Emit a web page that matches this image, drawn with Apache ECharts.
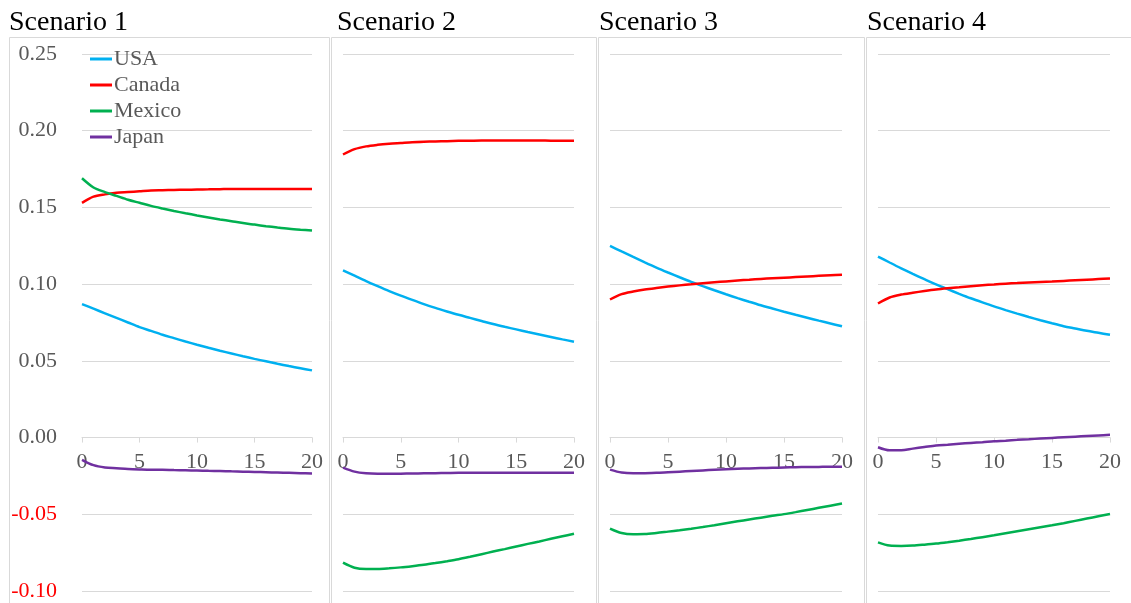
<!DOCTYPE html>
<html><head><meta charset="utf-8">
<script src="https://cdn.jsdelivr.net/npm/echarts@6/dist/echarts.min.js"></script>
<style>html,body{margin:0;padding:0;background:#fff}#c{width:1131px;height:603px}</style>
</head><body><div id="c"></div>
<script>
const scenarios = ['Scenario 1', 'Scenario 2', 'Scenario 3', 'Scenario 4'];
const countries = ['USA', 'Canada', 'Mexico', 'Japan'];
const colors = ['#00B0F0', '#FF0000', '#00B050', '#7030A0'];
const years = [0,1,2,3,4,5,6,7,8,9,10,11,12,13,14,15,16,17,18,19,20];
const xTicks = [0, 5, 10, 15, 20];
const yTicks = [-0.10, -0.05, 0.00, 0.05, 0.10, 0.15, 0.20, 0.25];

// Scenario 1
const s1USA = [0.087,0.084,0.081,0.078,0.075,0.072,0.0695,0.067,0.0648,0.0626,0.0605,0.0585,0.0566,0.0548,0.053,0.0513,0.0497,0.0481,0.0466,0.0452,0.0438];
const s1Canada = [0.153,0.157,0.1585,0.1595,0.160,0.1605,0.161,0.1612,0.1614,0.1615,0.1617,0.1618,0.1619,0.162,0.162,0.162,0.162,0.162,0.162,0.162,0.162];
const s1Mexico = [0.169,0.163,0.160,0.1575,0.155,0.153,0.151,0.1493,0.1477,0.1462,0.1448,0.1435,0.1422,0.141,0.1398,0.1388,0.1378,0.1369,0.1361,0.1355,0.1350];
const s1Japan = [-0.0145,-0.018,-0.0195,-0.020,-0.0205,-0.0208,-0.021,-0.021,-0.0212,-0.0213,-0.0215,-0.0217,-0.0218,-0.022,-0.0222,-0.0224,-0.0226,-0.0228,-0.023,-0.0232,-0.0234];
// Scenario 2
const s2USA = [0.109,0.1055,0.102,0.0987,0.0955,0.0925,0.0897,0.087,0.0845,0.0822,0.080,0.078,0.076,0.074,0.0722,0.0705,0.0688,0.0672,0.0656,0.064,0.0625];
const s2Canada = [0.1845,0.188,0.1898,0.1908,0.1915,0.192,0.1925,0.1928,0.193,0.1932,0.1934,0.1935,0.1936,0.1936,0.1936,0.1936,0.1936,0.1936,0.1935,0.1935,0.1935];
const s2Mexico = [-0.0815,-0.0848,-0.0856,-0.0856,-0.0852,-0.0846,-0.0838,-0.0829,-0.0818,-0.0806,-0.0793,-0.0777,-0.076,-0.0743,-0.0727,-0.071,-0.0693,-0.0677,-0.066,-0.0643,-0.0627];
const s2Japan = [-0.0196,-0.0222,-0.0233,-0.0236,-0.0236,-0.0235,-0.0234,-0.0233,-0.0232,-0.0231,-0.023,-0.023,-0.0229,-0.0229,-0.0229,-0.0229,-0.0229,-0.0229,-0.0229,-0.0229,-0.0229];
// Scenario 3
const s3USA = [0.125,0.1213,0.1177,0.1142,0.1108,0.1076,0.1045,0.1015,0.0987,0.096,0.0934,0.0909,0.0885,0.0862,0.0841,0.082,0.08,0.0781,0.0762,0.0744,0.0725];
const s3Canada = [0.090,0.0935,0.0952,0.0965,0.0975,0.0984,0.0992,0.0999,0.1006,0.1012,0.1018,0.1024,0.1029,0.1034,0.1038,0.1042,0.1046,0.105,0.1054,0.1058,0.1062];
const s3Mexico = [-0.0593,-0.0622,-0.063,-0.0629,-0.0622,-0.0613,-0.0604,-0.0594,-0.0583,-0.0571,-0.0558,-0.0546,-0.0534,-0.0522,-0.051,-0.0499,-0.0486,-0.0472,-0.0458,-0.0444,-0.043];
const s3Japan = [-0.0209,-0.0228,-0.0233,-0.0232,-0.023,-0.0226,-0.0222,-0.0218,-0.0214,-0.021,-0.0206,-0.0203,-0.0201,-0.0199,-0.0197,-0.0195,-0.0193,-0.0192,-0.0191,-0.019,-0.019];
// Scenario 4
const s4USA = [0.118,0.1141,0.1103,0.1067,0.1032,0.0998,0.0967,0.0937,0.0908,0.0881,0.0855,0.0831,0.0808,0.0786,0.0765,0.0745,0.0726,0.0711,0.0696,0.0683,0.067];
const s4Canada = [0.0874,0.0913,0.0932,0.0944,0.0955,0.0965,0.0973,0.098,0.0987,0.0993,0.0998,0.1003,0.1007,0.1011,0.1014,0.1017,0.1021,0.1025,0.1029,0.1033,0.1037];
const s4Mexico = [-0.0683,-0.0704,-0.0706,-0.0704,-0.0698,-0.0691,-0.0682,-0.0672,-0.0661,-0.0649,-0.0637,-0.0624,-0.0611,-0.0598,-0.0585,-0.0572,-0.0558,-0.0543,-0.0528,-0.0513,-0.0498];
const s4Japan = [-0.0063,-0.0083,-0.0082,-0.0072,-0.0062,-0.0052,-0.0046,-0.004,-0.0035,-0.003,-0.0024,-0.002,-0.0015,-0.0011,-0.0006,-0.0002,0.0002,0.0006,0.001,0.0014,0.0018];

const panelData = [
  [s1USA, s1Canada, s1Mexico, s1Japan],
  [s2USA, s2Canada, s2Mexico, s2Japan],
  [s3USA, s3Canada, s3Mexico, s3Japan],
  [s4USA, s4Canada, s4Mexico, s4Japan]
];

const FONT = '"Liberation Serif", "Times New Roman", serif';
const GRID_CLR = '#d9d9d9';
const CHART_H = 603, GRID_TOP = 54, GRID_BOTTOM = 12;
const GRID_H = CHART_H - GRID_TOP - GRID_BOTTOM;
const yMin = yTicks[0], yMax = yTicks[yTicks.length - 1];
// move the horizontal axis from the grid bottom up to the y = 0 line
const zeroOffset = -GRID_H * (0 - yMin) / (yMax - yMin);
const gridLefts = [82, 343, 610, 878];
const gridWidths = [230, 231, 232, 232];
const panelBoxes = [[9, 329], [331, 596], [598, 864], [866, 1140]];
const titleLefts = [9, 337, 599, 867];

const grids = [], xAxes = [], yAxes = [], series = [], titles = [], graphics = [];
for (let p = 0; p < 4; p++) {
  grids.push({ left: gridLefts[p], width: gridWidths[p], top: GRID_TOP, bottom: GRID_BOTTOM, containLabel: false, outerBoundsMode: 'none' });
  xAxes.push({
    gridIndex: p, type: 'value', min: xTicks[0], max: xTicks[xTicks.length - 1], interval: 5,
    position: 'bottom', offset: zeroOffset,
    axisLine: { onZero: false, lineStyle: { color: GRID_CLR, width: 1 } },
    axisTick: { show: true, length: 5, lineStyle: { color: GRID_CLR } },
    splitLine: { show: false },
    axisLabel: { color: '#595959', fontFamily: FONT, fontSize: 22, margin: 14 }
  });
  yAxes.push({
    gridIndex: p, type: 'value', min: yMin, max: yMax, interval: 0.05,
    axisLine: { show: false, onZero: false }, axisTick: { show: false },
    splitLine: { show: true, lineStyle: { color: GRID_CLR, width: 1 } },
    axisLabel: {
      show: p === 0, fontFamily: FONT, fontSize: 22, margin: 25,
      formatter: v => v.toFixed(2),
      color: v => (Number(v) < -1e-9 ? '#FF0000' : '#595959')
    }
  });
  titles.push({
    text: scenarios[p], left: titleLefts[p], top: 9, padding: 0,
    textStyle: { color: '#000', fontFamily: FONT, fontSize: 28, fontWeight: 'normal' }
  });
  graphics.push({
    type: 'rect', shape: { x: panelBoxes[p][0] + 0.5, y: 37.5, width: panelBoxes[p][1] - panelBoxes[p][0], height: 620 },
    style: { fill: 'none', stroke: GRID_CLR, lineWidth: 1 }, z: -1, silent: true
  });
  for (let c = 0; c < 4; c++) {
    series.push({
      name: countries[c], type: 'line', xAxisIndex: p, yAxisIndex: p,
      data: years.map((x, i) => [x, panelData[p][c][i]]),
      showSymbol: false, symbol: 'none', smooth: 0.3,
      lineStyle: { color: colors[c], width: 2.5 },
      itemStyle: { color: colors[c] }, z: 3
    });
  }
}

const chart = echarts.init(document.getElementById('c'), null, { renderer: 'canvas' });
chart.setOption({
  animation: false,
  backgroundColor: '#fff',
  title: titles,
  grid: grids,
  xAxis: xAxes,
  yAxis: yAxes,
  legend: {
    orient: 'vertical', left: 85, top: 43, itemGap: 4,
    itemWidth: 22, itemHeight: 3, icon: 'rect',
    data: countries,
    textStyle: { color: '#595959', fontFamily: FONT, fontSize: 22, padding: [0, 0, 0, -3] }
  },
  graphic: graphics,
  series: series
});
</script></body></html>
